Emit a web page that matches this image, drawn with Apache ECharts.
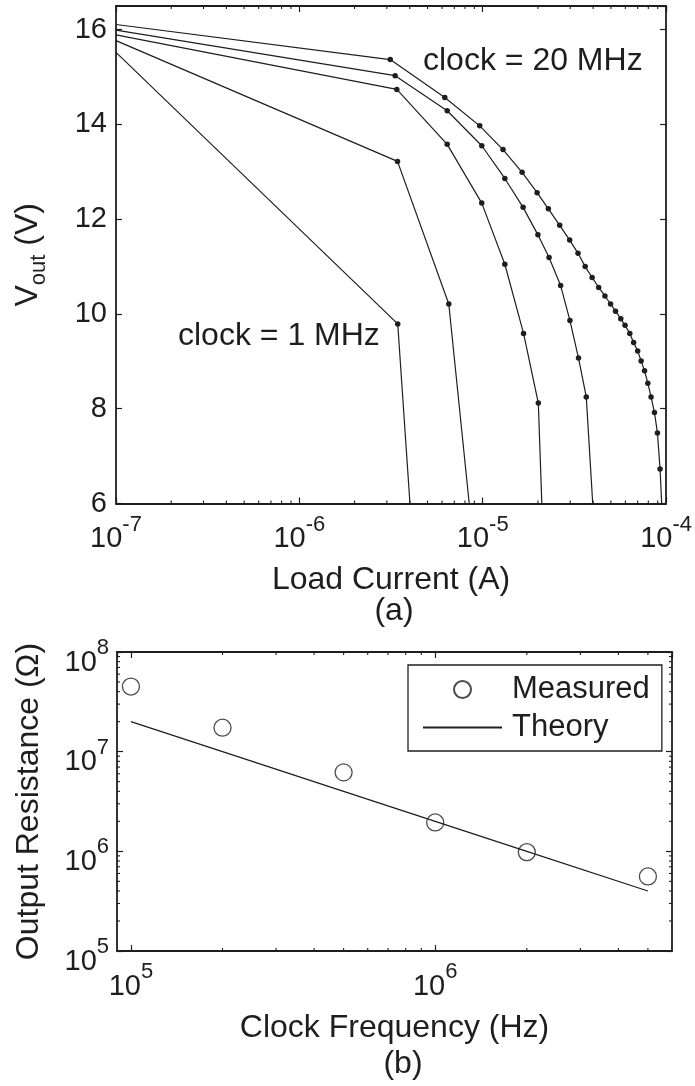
<!DOCTYPE html>
<html>
<head>
<meta charset="utf-8">
<script src="https://cdn.jsdelivr.net/npm/echarts@6/dist/echarts.min.js"></script>
<style>
  html, body { margin: 0; padding: 0; background: #fff; }
  #chart { width: 695px; height: 1086px; }
</style>
</head>
<body>
<div id="chart"></div>
<script>
// (a) 输出电压 vs 负载电流, 每条曲线一个时钟频率
// 每条曲线第一个点在左边框(1e-7), 最后一个点在下边框(6 V), 这两个点不画圆点
var curve1MHz = [[1e-7, 15.52], [3.44e-6, 9.79], [4.01e-6, 6]];
var curve2MHz = [[1e-7, 15.77], [3.43e-6, 13.22], [6.53e-6, 10.21], [8.44e-6, 6]];
var curve5MHz = [[1e-7, 15.89], [3.40e-6, 14.74], [6.40e-6, 13.58], [9.88e-6, 12.34],
  [1.32e-5, 11.05], [1.67e-5, 9.59], [2.01e-5, 8.12], [2.10e-5, 6]];
var curve10MHz = [[1e-7, 15.99], [3.33e-6, 15.03], [6.40e-6, 14.29], [9.88e-6, 13.55],
  [1.32e-5, 12.86], [1.66e-5, 12.25], [2.0e-5, 11.67], [2.30e-5, 11.19], [2.66e-5, 10.60],
  [2.99e-5, 9.86], [3.33e-5, 9.07], [3.67e-5, 8.25], [3.98e-5, 6]];
var curve20MHz = [[1e-7, 16.11], [3.13e-6, 15.37], [6.21e-6, 14.57], [9.63e-6, 13.97],
  [1.29e-5, 13.47], [1.64e-5, 12.99], [1.98e-5, 12.56], [2.28e-5, 12.22], [2.63e-5, 11.87],
  [2.98e-5, 11.56], [3.31e-5, 11.28], [3.62e-5, 11.0], [3.95e-5, 10.77], [4.29e-5, 10.56],
  [4.64e-5, 10.38], [4.98e-5, 10.21], [5.30e-5, 10.06], [5.66e-5, 9.90], [5.97e-5, 9.76],
  [6.34e-5, 9.59], [6.65e-5, 9.40], [7.0e-5, 9.22], [7.31e-5, 9.01], [7.63e-5, 8.80],
  [7.95e-5, 8.54], [8.28e-5, 8.25], [8.64e-5, 7.92], [8.97e-5, 7.49], [9.27e-5, 6.73], [9.46e-5, 6]];
var curves = [curve1MHz, curve2MHz, curve5MHz, curve10MHz, curve20MHz];
var curveNames = ['1 MHz', '2 MHz', '5 MHz', '10 MHz', '20 MHz'];

// (b) 输出电阻 vs 时钟频率
var clockFreq = [1e5, 2e5, 5e5, 1e6, 2e6, 5e6];
var measuredR = [4.5e7, 1.74e7, 6.2e6, 1.95e6, 9.8e5, 5.6e5];
var theoryR = [2e7, 1e7, 4e6, 2e6, 1e6, 4e5];

// 坐标轴范围
var currentRange = [1e-7, 1e-4];
var voltRange = [6, 16.5];
var freqRange = [9e4, 6e6];
var resRange = [1e5, 1e8];
// 对数轴的小刻度 (2..9 x 10^k)
var minorSteps = [2, 3, 4, 5, 6, 7, 8, 9];

var ink = '#1e1e1e';
var font = 'Liberation Sans';
var bigFont = '32px "Liberation Sans"';

function minorValues(range) {
  var out = [];
  var lo = Math.floor(Math.log10(range[0]));
  var hi = Math.ceil(Math.log10(range[1]));
  for (var k = lo; k < hi; k++) {
    minorSteps.forEach(function (m) {
      var v = m * Math.pow(10, k);
      if (v > range[0] && v < range[1]) out.push(v);
    });
  }
  return out;
}

function pow10Label(v) {
  var e = Math.round(Math.log10(v));
  return '{b|10}{s|' + e + '}';
}
var powRich = {
  b: { fontSize: 29, lineHeight: 30, padding: [11, 0, 10, 0], verticalAlign: 'top', color: ink, fontFamily: font },
  s: { fontSize: 22, lineHeight: 22, verticalAlign: 'top', color: ink, fontFamily: font }
};

var lineStyleAxis = { color: ink, width: 1.8 };

function xAxisOf(grid, range, pos, opts) {
  var a = {
    type: 'log', gridIndex: grid, position: pos, min: range[0], max: range[1],
    axisLine: { show: true, onZero: false, lineStyle: lineStyleAxis },
    axisTick: { show: true, inside: true, length: 6, lineStyle: { color: ink, width: 1.2 } },
    axisLabel: { show: false },
    splitLine: { show: false }
  };
  return Object.assign(a, opts || {});
}
function yAxisOf(grid, type, range, pos, opts) {
  var a = {
    type: type, gridIndex: grid, position: pos, min: range[0], max: range[1],
    axisLine: { show: true, onZero: false, lineStyle: lineStyleAxis },
    axisTick: { show: true, inside: true, length: 6, lineStyle: { color: ink, width: 1.2 } },
    axisLabel: { show: false },
    splitLine: { show: false }
  };
  return Object.assign(a, opts || {});
}

// 小刻度: 自定义系列, 位置由坐标轴换算
function minorTickSeries(axisIdx, xVals, yVals, xRef, yRef) {
  var data = [];
  xVals.forEach(function (v) { data.push([v, yRef, 0]); });
  yVals.forEach(function (v) { data.push([xRef, v, 1]); });
  return {
    type: 'custom', xAxisIndex: axisIdx, yAxisIndex: axisIdx, silent: true, clip: false,
    data: data,
    renderItem: function (params, api) {
      var p = api.coord([api.value(0), api.value(1)]);
      var cs = params.coordSys;
      var L = 3;
      var st = { stroke: ink, lineWidth: 1.1 };
      if (api.value(2) === 0) {
        return { type: 'group', children: [
          { type: 'line', shape: { x1: p[0], y1: cs.y + cs.height, x2: p[0], y2: cs.y + cs.height - L }, style: st },
          { type: 'line', shape: { x1: p[0], y1: cs.y, x2: p[0], y2: cs.y + L }, style: st }
        ] };
      }
      return { type: 'group', children: [
        { type: 'line', shape: { x1: cs.x, y1: p[1], x2: cs.x + L, y2: p[1] }, style: st },
        { type: 'line', shape: { x1: cs.x + cs.width, y1: p[1], x2: cs.x + cs.width - L, y2: p[1] }, style: st }
      ] };
    }
  };
}

var myChart = echarts.init(document.getElementById('chart'));

var series = curves.map(function (c, i) {
  var last = c.length - 1;
  return {
    name: curveNames[i], type: 'line', xAxisIndex: 0, yAxisIndex: 0,
    data: c,
    symbol: function (val, params) {
      return (params.dataIndex === 0 || params.dataIndex === last) ? 'none' : 'circle';
    },
    symbolSize: 5.5,
    showAllSymbol: true,
    lineStyle: { color: ink, width: 1.2 },
    itemStyle: { color: ink },
    animation: false
  };
});

series.push({
  name: 'Measured', type: 'scatter', xAxisIndex: 2, yAxisIndex: 2,
  data: clockFreq.map(function (f, i) { return [f, measuredR[i]]; }),
  symbol: 'circle', symbolSize: 17,
  itemStyle: { color: 'rgba(255,255,255,0)', borderColor: ink, borderWidth: 1.3 },
  animation: false
});
series.push({
  name: 'Theory', type: 'line', xAxisIndex: 2, yAxisIndex: 2,
  data: clockFreq.map(function (f, i) { return [f, theoryR[i]]; }),
  symbol: 'none',
  lineStyle: { color: ink, width: 1.3 },
  itemStyle: { color: ink },
  animation: false
});
series.push(minorTickSeries(0, minorValues(currentRange), [], currentRange[0], voltRange[0]));
series.push(minorTickSeries(2, minorValues(freqRange), minorValues(resRange), freqRange[0], resRange[0]));

var option = {
  backgroundColor: '#fff',
  animation: false,
  textStyle: { fontFamily: font, color: ink },
  grid: [
    { left: 116, top: 6, width: 556, height: 497.5 },
    { left: 117, top: 652, width: 555, height: 299 }
  ],
  xAxis: [
    xAxisOf(0, currentRange, 'bottom', {
      axisLabel: { show: true, margin: 10, formatter: pow10Label, rich: powRich },
      name: 'Load Current (A)', nameLocation: 'middle', nameGap: 55,
      nameTextStyle: { fontSize: 32, color: ink, fontFamily: font }
    }),
    xAxisOf(0, currentRange, 'top'),
    xAxisOf(1, freqRange, 'bottom', {
      axisLabel: { show: true, margin: 10, formatter: pow10Label, rich: powRich,
        showMinLabel: false, showMaxLabel: false },
      name: 'Clock Frequency (Hz)', nameLocation: 'middle', nameGap: 55,
      nameTextStyle: { fontSize: 32, color: ink, fontFamily: font }
    }),
    xAxisOf(1, freqRange, 'top')
  ],
  yAxis: [
    yAxisOf(0, 'value', voltRange, 'left', {
      interval: 2,
      axisLabel: { show: true, fontSize: 29, margin: 9, color: ink, showMaxLabel: false },
      name: '{a|V}{s|out}{a| (V)}', nameLocation: 'middle', nameGap: 68, nameRotate: 90,
      nameTextStyle: {
        color: ink, fontFamily: font,
        rich: {
          a: { fontSize: 32, lineHeight: 36, verticalAlign: 'top', color: ink, fontFamily: font },
          s: { fontSize: 22, lineHeight: 22, padding: [16, 0, 0, 0], verticalAlign: 'top', color: ink, fontFamily: font }
        }
      }
    }),
    yAxisOf(0, 'value', voltRange, 'right', { interval: 2 }),
    yAxisOf(1, 'log', resRange, 'left', {
      axisLabel: { show: true, margin: 8, formatter: pow10Label, rich: powRich },
      name: 'Output Resistance (Ω)', nameLocation: 'middle', nameGap: 72, nameRotate: 90,
      nameTextStyle: { fontSize: 32, color: ink, fontFamily: font }
    }),
    yAxisOf(1, 'log', resRange, 'right')
  ],
  legend: {
    data: [
      { name: 'Measured' },
      // 理论曲线的图例只要一条线, 不要中间的圆点
      { name: 'Theory', itemStyle: { color: 'rgba(0,0,0,0)', borderColor: 'rgba(0,0,0,0)', borderWidth: 0 } }
    ],
    orient: 'vertical', left: 408, top: 665,
    padding: [9, 12, 8, 14],
    itemWidth: 79, itemHeight: 17, itemGap: 7,
    borderColor: ink, borderWidth: 1.3, backgroundColor: '#fff',
    textStyle: { fontSize: 31, color: ink, fontFamily: font, padding: [0, 0, 0, 5] },
    selectedMode: false
  },
  graphic: [
    { type: 'text', x: 423, y: 61.5, style: { text: 'clock = 20 MHz', fill: ink, font: bigFont, verticalAlign: 'middle', align: 'left' } },
    { type: 'text', x: 178, y: 336.5, style: { text: 'clock = 1 MHz', fill: ink, font: bigFont, verticalAlign: 'middle', align: 'left' } },
    { type: 'text', x: 394, y: 611, style: { text: '(a)', fill: ink, font: bigFont, verticalAlign: 'middle', align: 'center' } },
    { type: 'text', x: 403, y: 1064, style: { text: '(b)', fill: ink, font: bigFont, verticalAlign: 'middle', align: 'center' } }
  ],
  series: series
};

myChart.setOption(option);
window.addEventListener('resize', function () {
  myChart.resize();
});
</script>
</body>
</html>
